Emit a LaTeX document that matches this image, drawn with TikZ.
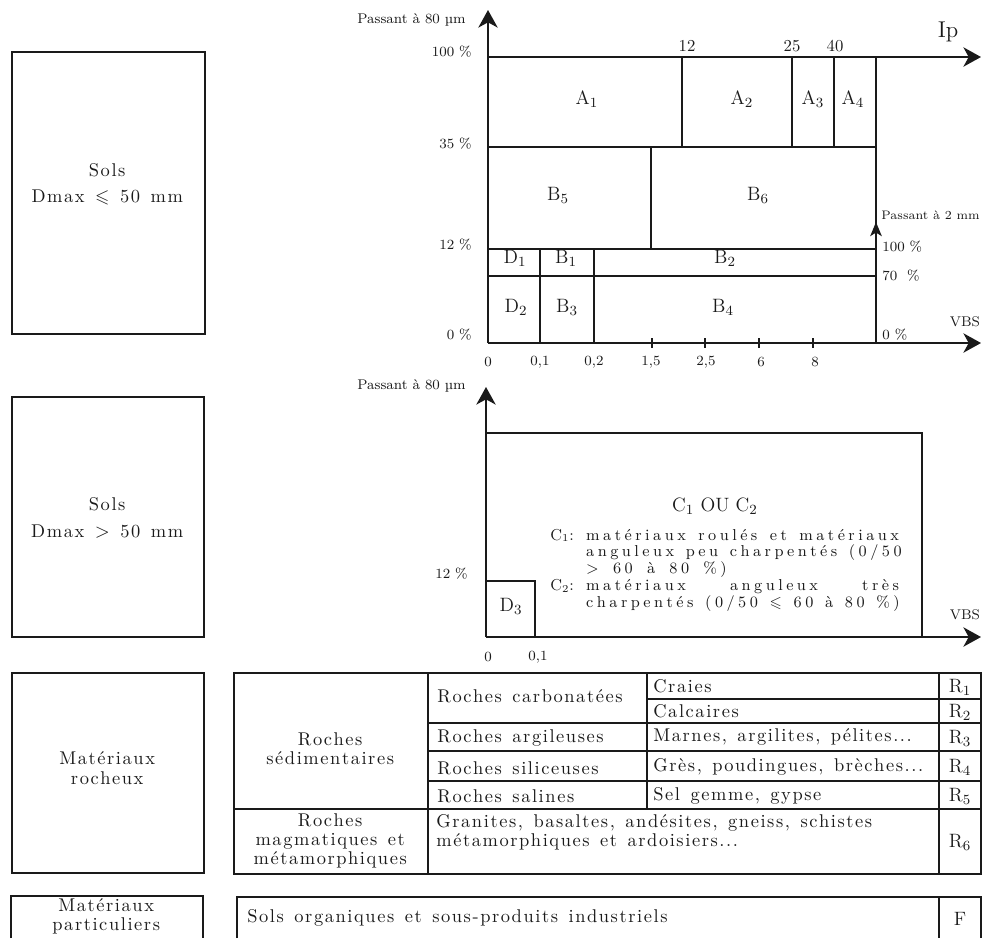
\documentclass[tikz,border=0pt]{standalone}
\usepackage{fontspec}
\usepackage{amssymb}
\usetikzlibrary{arrows.meta}
\definecolor{ink}{HTML}{1A1A1A}
\ExplSyntaxOn
\tl_new:N \l__ls_tl
\cs_new_protected:Npn \__ls_do:nnn #1#2#3
  {
    \cs_set:Npn \__ls_sp: { \hskip #2 \relax }
    \tl_set:Nn \l__ls_tl {#3}
    \tl_replace_all:Nnn \l__ls_tl { ~ } { \__ls_sp: }
    \tl_map_inline:Nn \l__ls_tl { ##1 \kern #1 \relax }
  }
\NewDocumentCommand \ls { m } { \__ls_do:nnn { .085em } { .4em } {#1} }
\NewDocumentCommand \lsw { m } { \__ls_do:nnn { .22em } { .3em~plus~1fil } {#1} }
\ExplSyntaxOff
\newcommand\jline[2][180pt]{\makebox[#1][s]{#2}}

\begin{document}
\begin{tikzpicture}[
  x=0.02cm, y=-0.02cm,
  frame/.style={draw=ink, line width=1.2pt},
  rule/.style={draw=ink, line width=0.6pt},
  grid/.style={draw=ink, line width=1pt},
  axis/.style={draw=ink, line width=1.3pt, -{Stealth[length=10pt, width=11pt, inset=3pt]}},
  txt/.style={font=\fontsize{10.5}{11}\selectfont, inner sep=0pt, text=ink},
  cls/.style={txt, align=center},
  zone/.style={font=\fontsize{11}{13}\selectfont, inner sep=0pt, text=ink},
  tick/.style={font=\fontsize{8}{9}\selectfont, inner sep=0pt, text=ink},
  num/.style={font=\fontsize{9.5}{11}\selectfont, inner sep=0pt, text=ink}
]
\useasboundingbox (0,0) rectangle (984,938);

% left column
\draw[frame] (12,52) rectangle (205,334);
\node[cls, font=\fontsize{10.5}{15}\selectfont] (sols1) at (108,184) {\ls{Sols}\\\ls{Dmax {$\leqslant$} 50 mm}};
\draw[frame] (12,397) rectangle (204,637);
\node[cls, font=\fontsize{10.5}{15}\selectfont] (sols2) at (108,518) {\ls{Sols}\\\ls{Dmax {$>$} 50 mm}};
\draw[frame] (12,673) rectangle (204,873);
\node[cls] (roch) at (108,768) {\ls{Matériaux}\\\ls{rocheux}};
\draw[frame] (11,938) -- (11,896) -- (203,896) -- (203,938);
\node[cls] (partic) at (107,916) {\ls{Matériaux}\\\ls{particuliers}};

% chart 1
\coordinate (o1) at (488,343);
\draw[axis] (o1) -- (488,10);
\draw[axis] (488,57) -- (981,57);
\draw[axis] (o1) -- (981,343);
\draw[grid] (488,147) -- (876,147);
\draw[grid] (876,57) -- (876,249);
\foreach \x in {682,792,834} \draw[grid] (\x,57) -- (\x,147);
\draw[grid] (651,147) -- (651,249);
\draw[grid] (488,249) -- (876,249);
\draw[grid] (488,276) -- (876,276);
\foreach \x in {540,594} \draw[grid] (\x,249) -- (\x,343);
\foreach \x in {652,705,759,813} \draw[grid] (\x,338) -- (\x,348);
\draw[draw=ink, line width=1.3pt, -{Stealth[length=8pt, width=6.5pt, inset=2pt]}] (o1 -| 876,0) -- (876,222);

\node[tick, anchor=east] (pass1) at (466,20) {Passant à 80 µm};
\node[zone, font=\fontsize{13}{15}\selectfont] (ip) at (948,32) {Ip};
\node[tick] (vbs1) at (965,322) {VBS};
\foreach \y/\t in {52/100 \%, 144/35 \%, 245/12 \%, 335/0 \%}
  \node[tick, anchor=east] at (472,\y) {\t};
\node[tick, font=\fontsize{7}{8}\selectfont, anchor=west] (pass2) at (881,215) {Passant à 2 mm};
\foreach \y/\t in {247/100 \%, 276/70\ \ \%, 335/0 \%}
  \node[tick, anchor=west] at (882,\y) {\t};
\foreach \x/\t in {687/12, 792/25, 835/40}
  \node[num] at (\x,46) {\t};
\foreach \x/\t in {488/0, 540/{0,1}, 594/{0,2}, 651/{1,5}, 706/{2,5}, 761/6, 815/8}
  \node[tick] at (\x,362) {\t};

\node[zone] (a1) at (587,99) {A$_1$};
\node[zone] (a2) at (742,99) {A$_2$};
\node[zone] (a3) at (813,99) {A$_3$};
\node[zone] (a4) at (853,99) {A$_4$};
\node[zone] (b5) at (558,195) {B$_5$};
\node[zone] (b6) at (758,195) {B$_6$};
\node[zone] (d1) at (515,258) {D$_1$};
\node[zone] (b1) at (566,258) {B$_1$};
\node[zone] (b2) at (725,258) {B$_2$};
\node[zone] (d2) at (516,307) {D$_2$};
\node[zone] (b3) at (567,307) {B$_3$};
\node[zone] (b4) at (723,307) {B$_4$};

% chart 2
\coordinate (o2) at (486,637);
\draw[axis] (o2) -- (486,387);
\draw[axis] (o2) -- (981,637);
\draw[grid] (486,433) -- (922,433) -- (922,637);
\draw[grid] (486,581) -- (535,581) -- (535,637);
\node[tick, anchor=east] (pass3) at (466,386) {Passant à 80 µm};
\node[tick, anchor=east] at (468,574) {12 \%};
\node[tick] (vbs2) at (965,615) {VBS};
\node[tick] at (488,657) {0};
\node[tick] at (538,657) {0,1};
\node[zone] (d3) at (511,606) {D$_3$};
\node[zone] (cc) at (715,506) {C$_1$ OU C$_2$};
\node[anchor=north west, inner sep=0pt, text=ink,
      font=\fontsize{9}{9.5}\selectfont] (cdef) at (550,528) {%
  \begin{tabular}{@{}l@{\hspace{7pt}}l@{}}
  C$_1$: & \jline{\lsw{matériaux roulés et matériaux}}\\
         & \jline{\lsw{anguleux peu charpentés (0/50}}\\
         & \jline[82pt]{\lsw{{$>$} 60 à 80 \%)}}\\
  C$_2$: & \jline{\lsw{matériaux anguleux très}}\\
         & \jline{\lsw{charpentés (0/50 {$\leqslant$} 60 à 80 \%)}}
  \end{tabular}};

% rock table
\draw[frame] (234,673) rectangle (981,874);
\draw[rule] (428,673) -- (428,874);
\draw[rule] (647,673) -- (647,809);
\draw[rule] (939,673) -- (939,874);
\draw[rule] (647,699) -- (981,699);
\foreach \y in {723,751,781} \draw[rule] (428,\y) -- (981,\y);
\draw[rule] (234,809) -- (981,809);

\node[cls] (sedi) at (331,749) {\ls{Roches}\\\ls{sédimentaires}};
\node[cls] (magm) at (331,841) {\ls{Roches}\\\ls{magmatiques et}\\\ls{métamorphiques}};
\node[txt, anchor=west] (carb) at (437,696) {\ls{Roches carbonatées}};
\node[txt, anchor=west] (argi) at (437,738) {\ls{Roches argileuses}};
\node[txt, anchor=west] (sili) at (437,768) {\ls{Roches siliceuses}};
\node[txt, anchor=west] (sali) at (437,796) {\ls{Roches salines}};
\node[txt, anchor=west] (crai) at (653,686) {\ls{Craies}};
\node[txt, anchor=west] (calc) at (653,711) {\ls{Calcaires}};
\node[txt, anchor=west] (marn) at (653,737) {\ls{Marnes, argilites, pélites...}};
\node[txt, anchor=west] (gres) at (653,767) {\ls{Grès, poudingues, brèches...}};
\node[txt, anchor=west] (selg) at (653,796) {\ls{Sel gemme, gypse}};
\node[txt, anchor=west, align=left] (roc6) at (436,832)
  {\ls{Granites, basaltes, andésites, gneiss, schistes}\\\ls{métamorphiques et ardoisiers...}};
\foreach \y/\i in {687/1, 712/2, 738/3, 767/4, 796/5, 842/6}
  \node[zone] at (960,\y) {R$_\i$};

% bottom table
\draw[frame] (237,938) -- (237,897) -- (981,897) -- (981,938);
\draw[rule] (939,897) -- (939,938);
\node[txt, anchor=west] (orga) at (247,918) {\ls{Sols organiques et sous-produits industriels}};
\node[zone] (f) at (960,919) {F};
\end{tikzpicture}
\end{document}
